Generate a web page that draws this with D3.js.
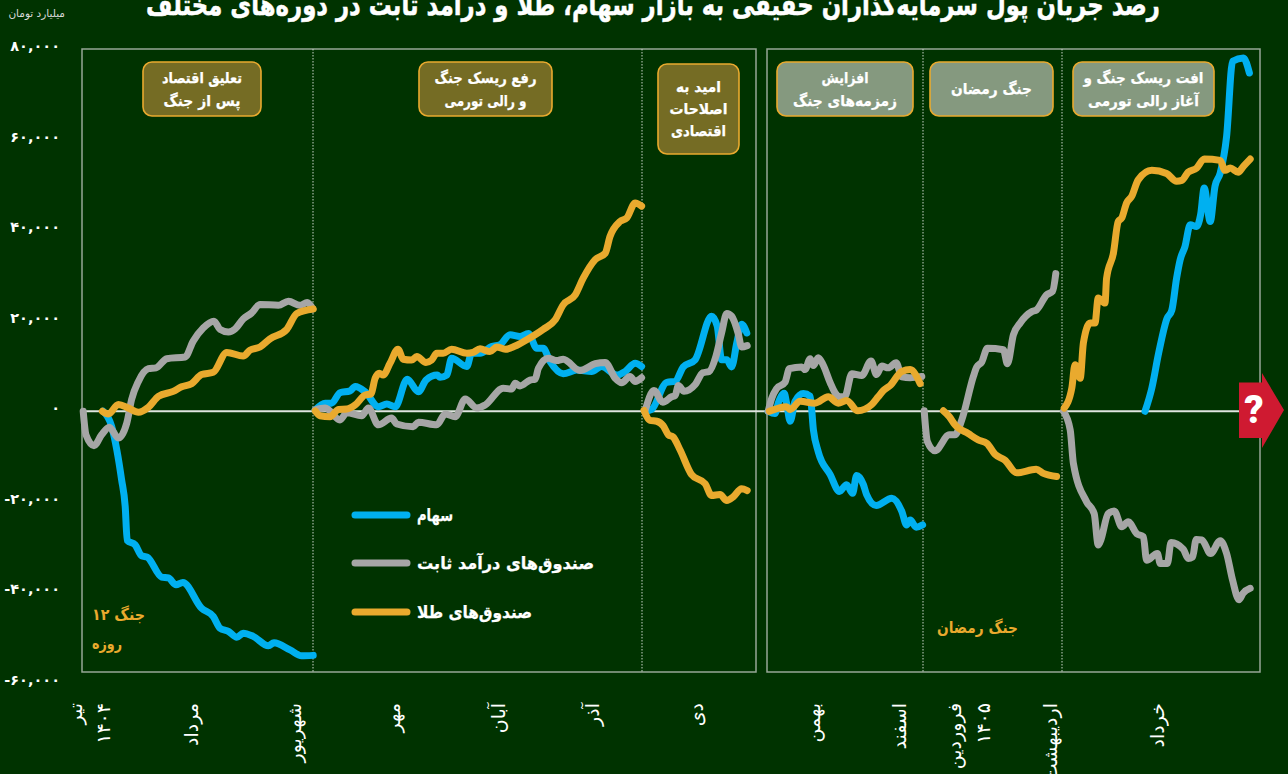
<!DOCTYPE html>
<html>
<head>
<meta charset="utf-8">
<script src="https://cdn.jsdelivr.net/npm/d3@7"></script>
<style>
html, body { margin: 0; padding: 0; background: #003300; overflow: hidden; }
text { font-family: "DejaVu Sans", sans-serif; fill: #fff; }
</style>
</head>
<body>
<svg id="chartSvg"></svg>
<script>
// values are [day, thousand billion toman], day counted from the start of each frame
const stockWar = [[5.3,0],[7.4,-3.3],[8.7,-8.5],[9.9,-15.1],[10.8,-21],[11.3,-28.5],[13.3,-29.5],[14.9,-31.9],[16.3,-32.2],[19.9,-36.6],[21.6,-36.8],[23.5,-38.3],[25.2,-37.8],[29.9,-43.5],[32.8,-45.3],[34.5,-47.9],[36.6,-48.6],[38.7,-49.9],[40.3,-49],[42.8,-49.7],[46.6,-51.8],[48,-51.1],[52,-52.7],[54.9,-54],[57.8,-53.9]]
const fixedWar = [[0.3,0],[1,-5.2],[3,-7.6],[4.9,-5.2],[6.8,-3.5],[9.1,-5.9],[11.2,-2.6],[12.4,2.6],[14.1,6.6],[16.6,9.4],[18.5,9.6],[21.2,11.6],[25.8,12],[27.8,15.5],[30.3,18.4],[33,19.9],[34.5,18.1],[36.6,17.5],[38.3,18.2],[40.3,20.4],[42.4,21.7],[44.5,23.6],[49.1,23.4],[51.6,24.3],[54.5,23.4],[56.3,24],[57.7,22.6]]
const goldWar = [[5.1,0],[6.6,-0.6],[9.1,1.5],[11.6,0.7],[14.1,-0.2],[16.6,0.9],[19.1,3.3],[22.8,4.4],[24.9,5.4],[27.4,6.1],[29.9,8.1],[32.8,8.6],[36.2,13],[40.3,12.2],[42,13.5],[44.5,14.2],[47,16],[51.2,18.1],[53.7,21.6],[57.8,22.6]]

const stockRally = [[58.3,0.3],[60.8,1.8],[62.4,1.8],[64.5,4.1],[67,4.5],[68.3,5.5],[70.8,4.3],[74.1,1],[76.2,1.6],[78.3,1],[81.3,7.1],[84.1,4.3],[86,6.9],[88.8,8],[89.5,7.5],[91.2,8],[92.4,11.7],[96.2,9.9],[97.4,12.8],[99.5,12.8],[102.4,14.3],[104.5,14.7],[107,16.9],[109.5,16.5],[111.6,17.2],[113.7,13.9],[115.3,13.9],[117,11],[120.3,8.3],[123.7,9.1],[127.4,8.8],[129.9,9.9],[133.7,8],[135.8,8.8],[138.3,10.6],[139.9,9.9]]
const fixedRally = [[58.3,0.3],[60.8,0.7],[64.5,-1.9],[66.2,-0.3],[69.9,-1],[71.6,0.7],[74.1,-3],[77.4,-1.5],[78.7,-2.8],[82.8,-3.4],[84.1,-2.4],[88.7,-3],[90.8,-0.6],[93.3,-1.2],[95.8,2.7],[98.7,0.7],[100.8,1.4],[105.3,5.1],[107.4,4.9],[108.3,6.2],[109.5,5.6],[112,6.9],[113.3,7.1],[114.1,9.5],[116.6,11.7],[118.7,11.2],[120.3,11.5],[124.5,9],[128.3,10.5],[130.8,10.8],[133.3,7.3],[134.9,6.3],[137,7.7],[138.3,6.6],[139.9,7.4]]
const goldRally = [[58.3,0.1],[59.5,-1],[62,-1.2],[64.1,0.4],[66.2,0.5],[68.3,1.4],[70.8,3.6],[72.2,3.8],[73.3,7.3],[74.3,8.4],[75.3,8],[77,10.6],[79,13.7],[80.3,11.5],[82.4,11.3],[83.7,12.1],[86,10.8],[87.4,11.3],[88.7,12.8],[90.3,12.8],[92.4,13.7],[96.2,12.8],[97.8,13],[99.5,13.8],[102,13.2],[103.7,14.2],[105.8,13.7],[108.3,14.4],[111.2,15.8],[115.3,18.1],[118.3,20.2],[120.3,23.5],[123.3,25.7],[125.3,29.4],[128.3,33.5],[130.8,34.9],[132,38.6],[134.5,41.9],[136.2,42.7],[138.3,46],[139.9,45.3]]

const stockHope = [[140.8,0],[142.4,0.4],[146.2,6.4],[148.3,6.6],[150.3,9.8],[153.3,11.4],[157.4,21],[158.8,18.8],[159.9,11.4],[161.2,11.4],[162.4,9.8],[163.7,15.1],[164.9,19.2],[166.2,17.3]]
const fixedHope = [[140.8,0.2],[143,4.6],[145.2,2],[147.4,3.2],[148.3,3.5],[149.1,5.7],[150.5,4.4],[153.3,5.9],[155.2,8.5],[156.8,8.8],[158.5,12.2],[159.9,17.3],[161.2,21.6],[162.4,21],[164.1,17],[164.9,14.2],[166.3,14.5]]
const goldHope = [[140.5,0.2],[142,-2],[143.7,-2.2],[145.3,-3.2],[146.6,-5.2],[147.8,-5.7],[149.5,-8.5],[152.4,-14],[155.8,-16],[157.4,-18.6],[159.5,-18.4],[161.2,-19.7],[162.8,-18.9],[164.9,-17.1],[166.3,-17.5]]

const stockBahman = [[0.3,0],[2,-0.5],[2.8,1.8],[4.3,4],[4.9,1.8],[5.8,-2.2],[7,2.2],[9.1,3.9],[10.8,3.3],[11.6,-4.1],[12.8,-8.9],[15.8,-14],[18.1,-17.7],[19.9,-16.2],[21.4,-18.1],[22.4,-14.2],[24.1,-16.2],[24.9,-18.4],[27.3,-20.8],[31.2,-19.2],[33.7,-22.1],[34.9,-25.1],[35.8,-24],[37.3,-25.6],[38.9,-25.1]]
const fixedBahman = [[0.3,0],[1.2,2.9],[2.4,5],[4.5,6.4],[5.6,9.4],[8.7,9.8],[9.5,9.2],[10.8,11.6],[11.6,10.1],[12.8,11.8],[14,10.3],[15.8,6.3],[17,4.1],[18.3,3.2],[19.5,3.3],[21.2,8.3],[23.7,7.9],[26,11.1],[27.4,8.1],[28.7,10],[30.3,9.6],[32.3,10.7],[33.7,7.6],[35.8,7.4],[38.7,7.7]]
const goldBahman = [[0.6,0],[4.9,1],[5.8,0.4],[8.3,2.2],[12,1.8],[15.3,3.2],[17.8,1.8],[19.9,2.4],[22.7,0.1],[26.2,1.5],[27.8,3.2],[29.1,4.6],[30.8,5.7],[33.7,8.8],[35.8,9.2],[38.3,6.1]]

const fixedRamadan = [[39.3,0.1],[40.1,-6.7],[42,-8.7],[45.6,-5.2],[47,-5.2],[48.7,-1.9],[51.6,7.7],[52.4,9.7],[53.7,10.9],[55.1,13.9],[59.1,13.6],[60.1,10.5],[61.6,16.9],[63.3,19.5],[66.2,22],[67.4,22.4],[69.9,25.7],[71.4,26.5],[72.2,30.4]]
const goldRamadan = [[44.1,0.1],[45.6,-1.2],[47,-3],[50.3,-4.9],[52.8,-6.3],[55,-7.1],[57,-9.5],[59.5,-10.8],[62.4,-13.6],[67.3,-12.8],[69.1,-13.7],[72.4,-14.4]]

const stockKhordad = [[94.5,0],[96.2,5.1],[97.9,12.8],[100,20.5],[101.2,22.3],[102.4,29.4],[103.3,33.5],[104.5,36.4],[105.8,41.2],[107.4,40.8],[108.4,43.4],[109.3,49.3],[110.8,41.9],[112,49.7],[113.3,52.6],[114.9,60.7],[116.4,77.3],[119.1,78],[120.6,74.7]]
const fixedKhordad = [[74.1,0],[75.8,-4.1],[76.6,-11.5],[79.9,-20],[81.8,-22.6],[82.8,-29.5],[83.3,-28.8],[85.3,-22.6],[86.8,-22],[88.7,-25.5],[90.3,-24.4],[92.4,-27],[94.1,-27.7],[94.9,-32.9],[97.6,-31.4],[98.3,-33.6],[100.1,-33.6],[101,-29],[104.1,-30.5],[105.3,-32.5],[106.4,-32.2],[107.3,-28.3],[108.7,-28.4],[110.9,-31.4],[113.3,-28.6],[114.9,-31.4],[116.4,-37.3],[118,-41.6],[119,-40.2],[120.8,-39.1]]
const goldKhordad = [[74.3,0.7],[76.2,5.1],[77,10.3],[78.3,7.3],[79.1,15.1],[80.8,19.5],[82,19.5],[82.8,25],[84.5,23.9],[84.9,29.4],[86.6,34.9],[87.8,41.9],[88.7,42.7],[89.9,46],[91.2,47.5],[92.8,51.1],[96.2,53.2],[99.9,52.5],[102.4,50.8],[103.7,51],[105.3,52.8],[107.4,53.7],[109.3,55.7],[113.3,55.4],[114.5,53.2],[115.8,53.7],[117.8,52.8],[119.1,54.1],[120.8,55.7]]

const yTicks = [80, 60, 40, 20, 0, -20, -40, -60]
const seriesNames = ['سهام', 'صندوق‌های درآمد ثابت', 'صندوق‌های طلا']
const firstBreaks = [57.75, 140]
const secondBreaks = [39, 73.75]
const firstMonths = [['تیر', -1.75], ['۱۴۰۴', 5.25], ['مرداد', 27.25], ['شهریور', 53], ['مهر', 77.75], ['آبان', 104], ['آذر', 127.5], ['دی', 153.5]]
const secondMonths = [['بهمن', 11.5], ['اسفند', 33], ['فروردین', 46.75], ['۱۴۰۵', 54], ['اردیبهشت', 70.75], ['خرداد', 97.5]]

let height = 774;
let width = 1288;

let frameTop = 49
let frameBottom = 672

const colors = { stock: '#00b0f0', fixed: '#a6a6a6', gold: '#e9aa2e' }
const olive = '#756c24'
const sage = '#85997f'

let xFirst = d3.scaleLinear().domain([0, 168.5]).range([82, 756])
let xSecond = d3.scaleLinear().domain([0, 123.25]).range([767, 1260])
let y = d3.scaleLinear().domain([-60, 80]).range([683, 49])

const svg = d3.select("#chartSvg")
    .attr('height', height)
    .attr('width', width)
    .style('display', 'block')

const toPersian = s => s.replace('−', '-').replace(/\d/g, d => '۰۱۲۳۴۵۶۷۸۹'[d])

// dejavu runs wide, so the big bold texts are squeezed to the width of the original
function squeeze(sel, w) {
    return sel.attr('textLength', w).attr('lengthAdjust', 'spacingAndGlyphs')
}

// title runs off the top of the picture, as in the original
svg.append('text')
    .attr('x', 653)
    .attr('y', 15)
    .attr('text-anchor', 'middle')
    .attr('direction', 'rtl')
    .attr('font-weight', 'bold')
    .attr('font-size', 29)
    .style('stroke', '#fff')
    .style('stroke-width', 0.5)
    .call(squeeze, 1014)
    .text('رصد جریان پول سرمایه‌گذاران حقیقی به بازار سهام، طلا و درآمد ثابت در دوره‌های مختلف')

svg.append('text')
    .attr('x', 65)
    .attr('y', 17)
    .attr('direction', 'rtl')
    .attr('text-anchor', 'start')
    .attr('font-size', 10.5)
    .style('fill', '#d9d9d9')
    .text('میلیارد تومان')

// y labels
svg.append('g').selectAll('text')
    .data(yTicks)
    .join('text')
    .attr('x', 60)
    .attr('y', d => y(d) - 3)
    .attr('text-anchor', 'end')
    .attr('dominant-baseline', 'central')
    .attr('direction', 'ltr')
    .attr('font-size', 14.5)
    .attr('font-weight', 'bold')
    .text(d => toPersian(d3.format(',')(d * 1000)))

// frames
const frameColor = '#97a897'
const frames = svg.append('g')
frames.append('rect')
    .attr('x', xFirst.range()[0]).attr('y', frameTop)
    .attr('width', xFirst.range()[1] - xFirst.range()[0]).attr('height', frameBottom - frameTop)
frames.append('rect')
    .attr('x', xSecond.range()[0]).attr('y', frameTop)
    .attr('width', xSecond.range()[1] - xSecond.range()[0]).attr('height', frameBottom - frameTop)
frames.selectAll('rect')
    .attr('fill', 'none')
    .attr('stroke', frameColor)
    .attr('stroke-width', 1.5)

// dotted period breaks
const breakXs = firstBreaks.map(d => xFirst(d)).concat(secondBreaks.map(d => xSecond(d)))
svg.append('g').selectAll('line')
    .data(breakXs)
    .join('line')
    .attr('x1', d => d).attr('x2', d => d)
    .attr('y1', frameTop).attr('y2', frameBottom)
    .attr('stroke', '#c8d4c8')
    .attr('stroke-width', 1)
    .attr('stroke-dasharray', '1.5 1.5')

// zero line
svg.append('line')
    .attr('x1', xFirst.range()[0]).attr('x2', 1242)
    .attr('y1', y(0)).attr('y2', y(0))
    .attr('stroke', '#dfe5df')
    .attr('stroke-width', 2)

// lines
const lines = [
    [stockWar, xFirst, colors.stock], [fixedWar, xFirst, colors.fixed], [goldWar, xFirst, colors.gold],
    [stockRally, xFirst, colors.stock], [fixedRally, xFirst, colors.fixed], [goldRally, xFirst, colors.gold],
    [stockHope, xFirst, colors.stock], [fixedHope, xFirst, colors.fixed], [goldHope, xFirst, colors.gold],
    [stockBahman, xSecond, colors.stock], [fixedBahman, xSecond, colors.fixed], [goldBahman, xSecond, colors.gold],
    [fixedRamadan, xSecond, colors.fixed], [goldRamadan, xSecond, colors.gold],
    [stockKhordad, xSecond, colors.stock], [fixedKhordad, xSecond, colors.fixed], [goldKhordad, xSecond, colors.gold],
]
lines.forEach(([values, x, color]) => {
    svg.append('path')
        .datum(values)
        .attr('d', d3.line().curve(d3.curveMonotoneX).x(d => x(d[0])).y(d => y(d[1])))
        .attr('fill', 'none')
        .attr('stroke', color)
        .attr('stroke-width', 7)
        .attr('stroke-linecap', 'round')
        .attr('stroke-linejoin', 'round')
})

// month labels, rotated and hanging under the frame
const monthLabels = firstMonths.map(d => [d[0], xFirst(d[1])]).concat(secondMonths.map(d => [d[0], xSecond(d[1])]))
svg.append('g').selectAll('text')
    .data(monthLabels)
    .join('text')
    .attr('transform', d => `translate(${d[1]},703) rotate(-90)`)
    .attr('direction', 'rtl')
    .attr('text-anchor', 'start')
    .attr('dominant-baseline', 'central')
    .attr('font-size', 19)
    .text(d => d[0])

// period boxes
const boxes = [
    { x: 143, y: 62, w: 118, h: 54, fill: olive, text: [['تعلیق اقتصاد', 80], ['پس از جنگ', 77]] },
    { x: 419, y: 62, w: 133, h: 54, fill: olive, text: [['رفع ریسک جنگ', 102], ['و رالی تورمی', 82]] },
    { x: 658, y: 64, w: 81, h: 90, fill: olive, text: [['امید به', 45], ['اصلاحات', 58], ['اقتصادی', 55]] },
    { x: 777, y: 62, w: 136, h: 54, fill: sage, text: [['افزایش', 47], ['زمزمه‌های جنگ', 104]] },
    { x: 930, y: 62, w: 123, h: 54, fill: sage, text: [['جنگ رمضان', 81]] },
    { x: 1073, y: 62, w: 141, h: 54, fill: sage, text: [['افت ریسک جنگ و', 120], ['آغاز رالی تورمی', 111]] },
]
boxes.forEach(b => {
    svg.append('rect')
        .attr('x', b.x).attr('y', b.y)
        .attr('width', b.w).attr('height', b.h)
        .attr('rx', 9)
        .attr('fill', b.fill)
        .attr('stroke', colors.gold)
        .attr('stroke-width', 1.6)
    let step = b.text.length == 3 ? 22 : 23
    b.text.forEach((t, i) => {
        svg.append('text')
            .attr('x', b.x + b.w / 2)
            .attr('y', b.y + b.h / 2 + (i - (b.text.length - 1) / 2) * step)
            .attr('text-anchor', 'middle')
            .attr('dominant-baseline', 'central')
            .attr('direction', 'rtl')
            .attr('font-size', 15)
            .attr('font-weight', 'bold')
            .style('stroke', '#fff')
            .style('stroke-width', 0.25)
            .call(squeeze, t[1])
            .text(t[0])
    })
})

// legend
const legendYs = [515, 563, 612]
const legendColors = [colors.stock, colors.fixed, colors.gold]
const legendWidths = [36, 177, 115]
seriesNames.forEach((name, i) => {
    svg.append('line')
        .attr('x1', 355).attr('x2', 407)
        .attr('y1', legendYs[i]).attr('y2', legendYs[i])
        .attr('stroke', legendColors[i])
        .attr('stroke-width', 7)
        .attr('stroke-linecap', 'round')
    svg.append('text')
        .attr('x', 417)
        .attr('y', legendYs[i])
        .attr('direction', 'rtl')
        .attr('text-anchor', 'end')
        .attr('dominant-baseline', 'central')
        .attr('font-size', 17)
        .attr('font-weight', 'bold')
        .style('stroke', '#fff')
        .style('stroke-width', 0.25)
        .call(squeeze, legendWidths[i])
        .text(name)
})

// gold notes inside the frames
const notes = [
    { x: 92, y: 614, w: 53, t: 'جنگ ۱۲' },
    { x: 92, y: 643, w: 30, t: 'روزه' },
    { x: 937, y: 627, w: 81, t: 'جنگ رمضان' },
]
notes.forEach(n => {
    svg.append('text')
        .attr('x', n.x)
        .attr('y', n.y)
        .attr('direction', 'rtl')
        .attr('text-anchor', 'end')
        .attr('dominant-baseline', 'central')
        .attr('font-size', 16)
        .attr('font-weight', 'bold')
        .style('fill', colors.gold)
        .call(squeeze, n.w)
        .text(n.t)
})

// red arrow with the question mark
svg.append('path')
    .attr('d', 'M1239,382.5 L1262,382.5 L1262,373 L1284,410 L1262,448 L1262,438 L1239,438 Z')
    .attr('fill', '#cf1a31')
svg.append('text')
    .attr('x', 1254)
    .attr('y', 410)
    .attr('text-anchor', 'middle')
    .attr('dominant-baseline', 'central')
    .attr('font-size', 38)
    .attr('font-weight', 900)
    .style('font-family', 'Roboto')
    .text('?')
</script>
</body>
</html>
